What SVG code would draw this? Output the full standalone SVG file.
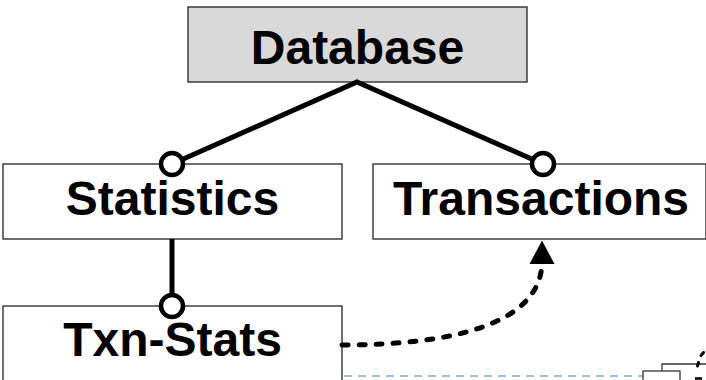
<svg xmlns="http://www.w3.org/2000/svg" width="706" height="380" viewBox="0 0 706 380">
  <style>
    .box { fill: #ffffff; stroke: #222222; stroke-width: 1.3; }
    .root { fill: #d9d9d9; }
    .label { font-family: "Liberation Sans", Arial, sans-serif; font-weight: bold; font-size: 48px; fill: #000000; text-anchor: middle; }
    .link { fill: none; stroke: #000000; stroke-width: 5; }
    .dot { fill: #ffffff; stroke: #000000; stroke-width: 4.5; }
    .dep { fill: none; stroke: #000000; stroke-width: 5; stroke-dasharray: 6 11; stroke-linecap: round; }
    .guide { fill: none; stroke: #a4bcd4; stroke-width: 2; stroke-dasharray: 8 6; }
    .thin { fill: #ffffff; stroke: #333333; stroke-width: 1.3; }
  </style>
  <defs>
    <marker id="arrow" markerWidth="26" markerHeight="25" refX="13" refY="23" orient="0" markerUnits="userSpaceOnUse">
      <polygon points="13,0.5 25.5,24 0.5,24" fill="#000000"/>
    </marker>
  </defs>

  <rect width="706" height="380" fill="#ffffff"/>

  <!-- partial elements at the bottom edge -->
  <g id="edge-fragments">
    <line class="guide" x1="344" y1="376" x2="643" y2="376"/>
    <polyline class="thin" points="662,371 662,364 706,364" fill="none"/>
    <rect class="thin" x="643" y="371" width="37" height="20"/>
    <line x1="697.5" y1="366" x2="698.5" y2="362.5" stroke="#000" stroke-width="3" stroke-linecap="round"/>
    <line x1="701" y1="355.5" x2="703.5" y2="352.5" stroke="#000" stroke-width="3" stroke-linecap="round"/>
    <line x1="695" y1="378.5" x2="702" y2="378.5" stroke="#000" stroke-width="2.5"/>
  </g>

  <g id="database">
    <rect class="box root" x="188" y="7" width="339" height="75"/>
    <text class="label" x="357.5" y="64">Database</text>
  </g>

  <g id="statistics">
    <rect class="box" x="3" y="164" width="339" height="75"/>
    <text class="label" x="172.5" y="215">Statistics</text>
  </g>

  <g id="transactions">
    <rect class="box" x="373" y="164" width="333" height="75"/>
    <text class="label" x="541" y="215">Transactions</text>
  </g>

  <g id="txn-stats">
    <rect class="box" x="3" y="306" width="339" height="80"/>
    <text class="label" x="172.5" y="356">Txn-Stats</text>
  </g>

  <g id="connectors">
    <polyline class="link" points="172,164 357,82 543,164"/>
    <line class="link" x1="172" y1="239" x2="172" y2="306"/>
    <path class="dep" d="M 342 345 C 450 345 540 325 542 263" marker-end="url(#arrow)"/>
    <circle class="dot" cx="172" cy="164" r="11"/>
    <circle class="dot" cx="543" cy="164" r="11"/>
    <circle class="dot" cx="172" cy="306" r="11"/>
  </g>
</svg>
